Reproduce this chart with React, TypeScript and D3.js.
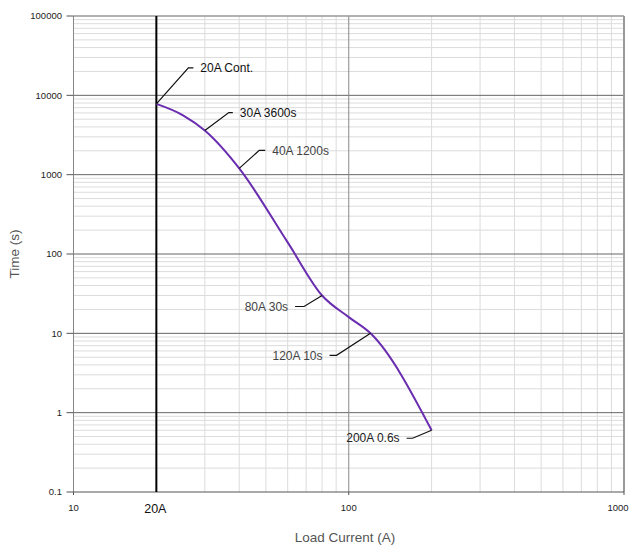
import React from "react";
import * as d3 from "d3";

const curveCurrent = [20, 25, 30, 40, 60, 80, 100, 120, 200];
const curveTime = [7800, 5600, 3600, 1200, 140, 30, 16, 10, 0.6];

const annCurrent = [20, 30, 40, 80, 120, 200];
const annTime = [7800, 3600, 1200, 30, 10, 0.6];
const annText = ["20A Cont.", "30A 3600s", "40A 1200s", "80A 30s", "120A 10s", "200A 0.6s"];
// leader offsets in px (dx, dy to elbow, horizontal stub length signed)
const annDx = [32, 24, 20, -18, -34, -19];
const annDy = [-36, -18, -18, 11, 22, 8];
const annStub = [5, 4, 6, -9, -7, -6];
const annColor = ["#111", "#111", "#444", "#444", "#444", "#222"];

const yTicks = [0.1, 1, 10, 100, 1000, 10000, 100000];
const yTickLabels = ["0.1", "1", "10", "100", "1000", "10000", "100000"];
const xTicks = [10, 100, 1000];
const xTickLabels = ["10", "100", "1000"];
const refCurrent = 20;
const refLabel = "20A";

export default function App() {
  const W = 633, H = 546;
  const x0 = 73.5, x1 = 624, y0 = 492, y1 = 16;
  const x = d3.scaleLog().domain([10, 1000]).range([x0, x1]);
  const y = d3.scaleLog().domain([0.1, 100000]).range([y0, y1]);

  const minorX: number[] = [];
  for (let d = 10; d < 1000; d *= 10) for (let k = 2; k <= 9; k++) minorX.push(d * k);
  const minorY: number[] = [];
  for (let d = 0.1; d < 100000; d *= 10) for (let k = 2; k <= 9; k++) minorY.push(d * k);

  const line = d3
    .line<number>()
    .x((_, i) => x(curveCurrent[i]))
    .y((d) => y(d))
    .curve(d3.curveMonotoneX);

  const font = "Liberation Sans, Arial, Helvetica, sans-serif";

  return (
    <svg width={W} height={H} style={{ position: "absolute", left: 0, top: 0 }} fontFamily={font}>
      <rect width={W} height={H} fill="#fff" />
      {minorY.map((v, i) => (
        <line key={"my" + i} x1={x0} x2={x1} y1={y(v)} y2={y(v)} stroke="#dcdcdc" strokeWidth={1} />
      ))}
      {minorX.map((v, i) => (
        <line key={"mx" + i} x1={x(v)} x2={x(v)} y1={y1} y2={y0} stroke="#dcdcdc" strokeWidth={1} />
      ))}
      {yTicks.slice(1, -1).map((v, i) => (
        <line key={"My" + i} x1={x0} x2={x1} y1={y(v)} y2={y(v)} stroke="#666" strokeWidth={1} />
      ))}
      <line x1={x(100)} x2={x(100)} y1={y1} y2={y0} stroke="#888" strokeWidth={1} />
      <line x1={x0} x2={x1} y1={y1} y2={y1} stroke="#999" strokeWidth={1.5} />
      <line x1={x1} x2={x1} y1={y1} y2={y0} stroke="#999" strokeWidth={2} />
      <line x1={x0} x2={x0} y1={y1} y2={y0} stroke="#888" strokeWidth={1} />
      <line x1={x0} x2={x1} y1={y0} y2={y0} stroke="#555" strokeWidth={1} />
      {yTicks.map((v, i) => (
        <g key={"yt" + i}>
          <line x1={x0 - 7} x2={x0} y1={y(v)} y2={y(v)} stroke="#555" strokeWidth={1} />
          <text x={62} y={y(v)} dy="0.35em" textAnchor="end" fontSize={9.5} fill="#222">
            {yTickLabels[i]}
          </text>
        </g>
      ))}
      {xTicks.map((v, i) => (
        <g key={"xt" + i}>
          <line x1={x(v)} x2={x(v)} y1={y0} y2={y0 + 3} stroke="#555" strokeWidth={1} />
          <text x={Math.min(x(v), 618)} y={511} textAnchor="middle" fontSize={9.5} fill="#222">
            {xTickLabels[i]}
          </text>
        </g>
      ))}
      <line x1={x(refCurrent)} x2={x(refCurrent)} y1={y1} y2={y0} stroke="#000" strokeWidth={2} />
      <text x={x(refCurrent) - 1} y={513} textAnchor="middle" fontSize={12.5} fill="#111">
        {refLabel}
      </text>
      <path d={line(curveTime) || ""} fill="none" stroke="#6a2db0" strokeWidth={2} />
      {annCurrent.map((c, i) => {
        const px = x(c), py = y(annTime[i]);
        const ex = px + annDx[i], ey = py + annDy[i];
        const sx = ex + annStub[i];
        const right = annStub[i] > 0;
        return (
          <g key={"a" + i}>
            <polyline points={`${px},${py} ${ex},${ey} ${sx},${ey}`} fill="none" stroke="#111" strokeWidth={1.2} />
            <text x={right ? sx + 7 : sx - 7} y={ey} dy="0.35em" textAnchor={right ? "start" : "end"} fontSize={12} fill={annColor[i]}>
              {annText[i]}
            </text>
          </g>
        );
      })}
      <text x={345} y={542} textAnchor="middle" fontSize={13.5} fill="#555">
        Load Current (A)
      </text>
      <text transform="translate(19,254) rotate(-90)" textAnchor="middle" fontSize={13.5} fill="#555">
        Time (s)
      </text>
    </svg>
  );
}
